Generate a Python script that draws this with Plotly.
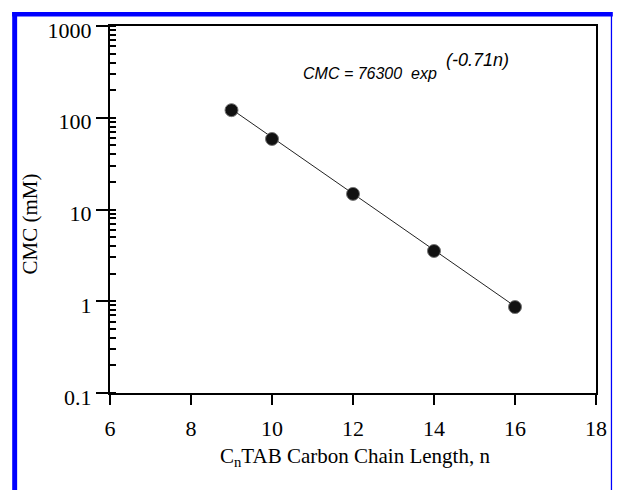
import plotly.graph_objects as go

# Data
chain_n = [9, 10, 12, 14, 16]
cmc_mM = [121, 58.7, 14.8, 3.53, 0.865]
fit_n = [9, 16]
fit_cmc = [124, 0.88]
x_ticks = [6, 8, 10, 12, 14, 16, 18]
y_ticks = [0.1, 1, 10, 100, 1000]
y_ticklabels = ["0.1", "1", "10", "100", "1000"]

W, H = 619, 490
L, R, T, B = 110, 17, 26, 97
PW, PH = W - L - R, H - T - B

def px(x):
    return (x - L) / PW

def py(y):
    return 1 - (y - T) / PH

fig = go.Figure()
fig.add_trace(go.Scatter(x=fit_n, y=fit_cmc, mode="lines",
                         line=dict(color="#222222", width=1), showlegend=False))
fig.add_trace(go.Scatter(x=chain_n, y=cmc_mM, mode="markers",
                         marker=dict(symbol="circle", size=13, color="#111111",
                                     line=dict(color="#777777", width=1)),
                         showlegend=False))

serif = "Liberation Serif, Times New Roman, serif"
fig.update_xaxes(range=[6, 18], tickvals=x_ticks, ticks="outside", ticklen=10,
                 tickwidth=2, tickcolor="black", showline=True, linecolor="black",
                 linewidth=2, mirror=True, showgrid=False, zeroline=False,
                 ticklabelstandoff=5,
                 tickfont=dict(family=serif, size=22, color="black"))
fig.update_yaxes(type="log", range=[-1, 3], tickvals=y_ticks, ticktext=y_ticklabels,
                 ticks="outside", ticklen=12, tickwidth=2, tickcolor="black",
                 showline=True, linecolor="black", linewidth=2, mirror=True,
                 showgrid=False, zeroline=False, ticklabelshift=4,
                 minor=dict(ticks="inside", ticklen=6, tickwidth=1.5, tickcolor="black",
                            dtick="D1", showgrid=False),
                 tickfont=dict(family=serif, size=22, color="black"))

sans = "Liberation Sans, Arial, sans-serif"
ann = [
    dict(text="CMC (mM)", x=px(29), y=py(223.5), textangle=-90, showarrow=False,
         xref="paper", yref="paper", xanchor="center", yanchor="middle",
         font=dict(family=serif, size=21, color="black")),
    dict(text="C<sub>n</sub>TAB Carbon Chain Length, n", x=px(358), y=py(442),
         showarrow=False, xref="paper", yref="paper", xanchor="center", yanchor="top",
         font=dict(family=serif, size=21, color="black")),
    dict(text="<i>CMC = 76300  exp</i>", x=px(303), y=py(73.5), showarrow=False,
         xref="paper", yref="paper", xanchor="left", yanchor="middle",
         font=dict(family=sans, size=16, color="black")),
    dict(text="<i>(-0.71n)</i>", x=px(448), y=py(60), showarrow=False,
         xref="paper", yref="paper", xanchor="left", yanchor="middle",
         font=dict(family=sans, size=18, color="black")),
]

blue = "#0000FF"
shapes = [
    dict(type="rect", xref="paper", yref="paper", x0=px(11), x1=px(16),
         y0=py(490), y1=py(12), fillcolor=blue, line=dict(width=0), layer="above"),
    dict(type="rect", xref="paper", yref="paper", x0=px(11), x1=px(619),
         y0=py(16.5), y1=py(12), fillcolor=blue, line=dict(width=0), layer="above"),
    dict(type="rect", xref="paper", yref="paper", x0=px(617), x1=px(618.3),
         y0=py(490), y1=py(12), fillcolor=blue, line=dict(width=0), layer="above"),
]

fig.update_layout(width=W, height=H, margin=dict(l=L, r=R, t=T, b=B),
                  paper_bgcolor="white", plot_bgcolor="white",
                  annotations=ann, shapes=shapes)

fig.write_html("out.html")
